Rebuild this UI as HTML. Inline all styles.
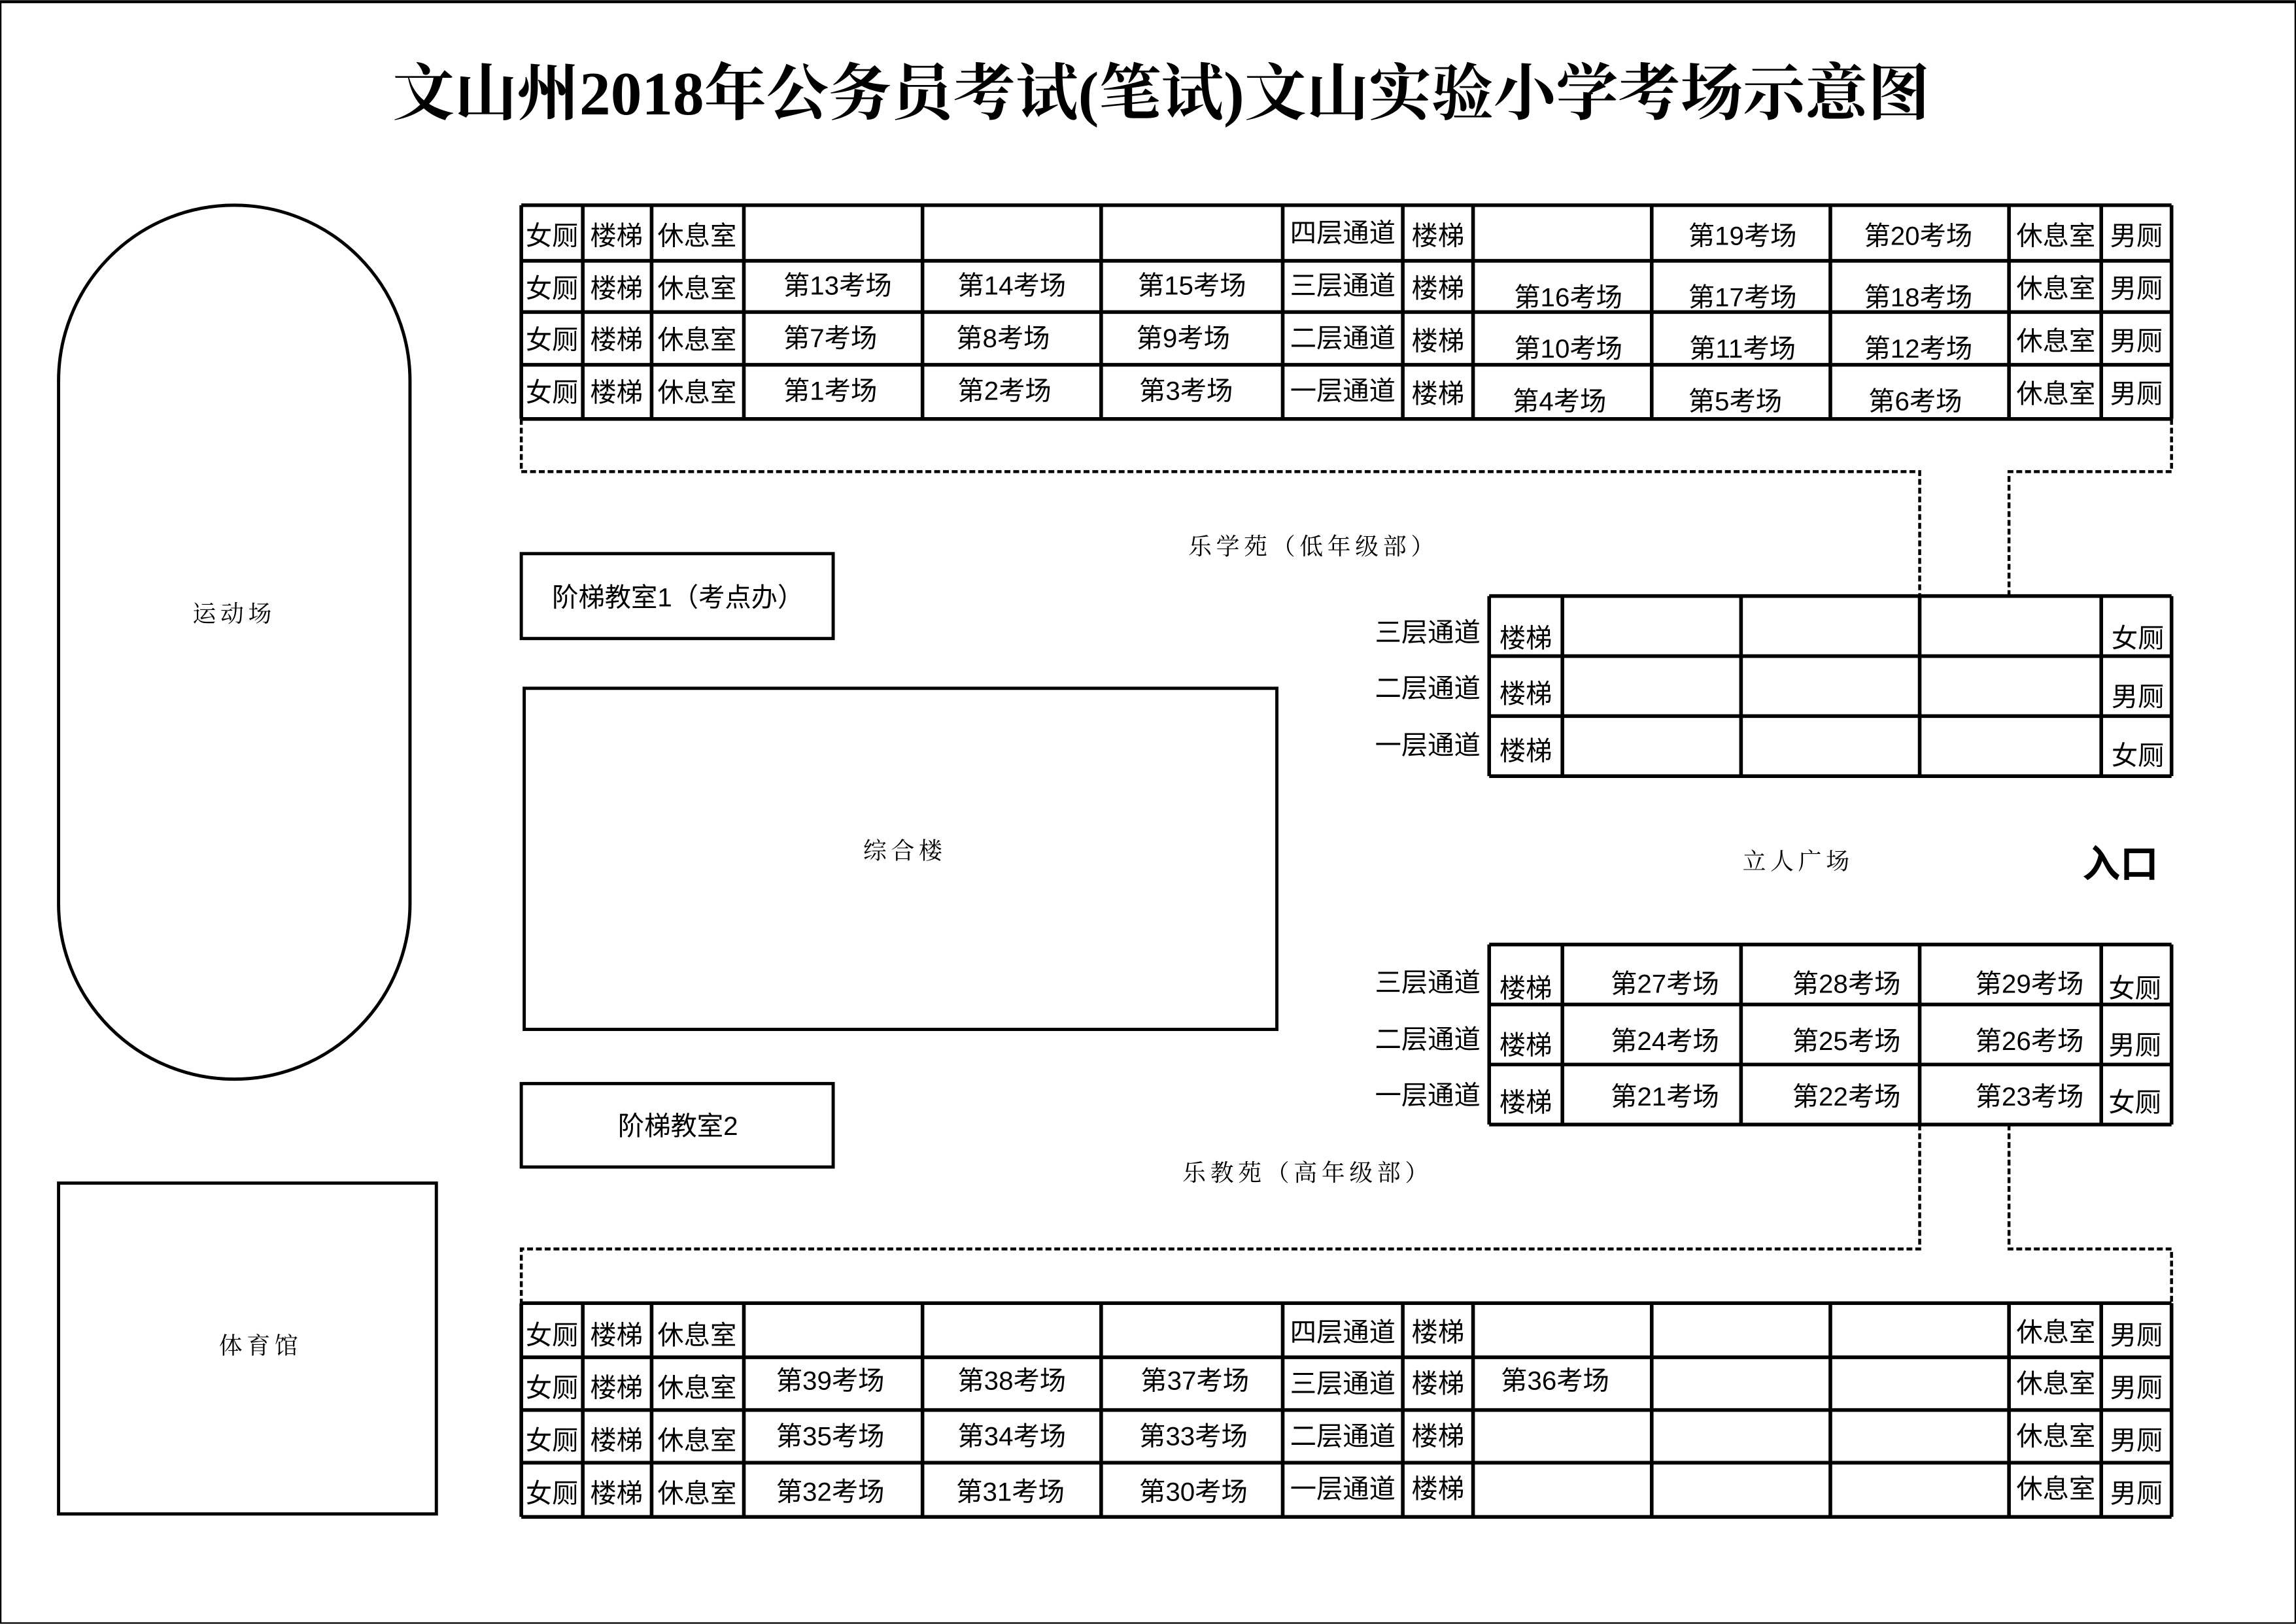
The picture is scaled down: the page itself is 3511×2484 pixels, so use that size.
<!DOCTYPE html>
<html><head><meta charset="utf-8"><style>
html,body{margin:0;padding:0;background:#fff;}
svg{display:block;}
text{font-family:"Liberation Sans","Noto Sans CJK SC",sans-serif;fill:#000;}
.c{font-size:18px;text-anchor:middle;dominant-baseline:central;}
.k{font-family:"Noto Serif CJK SC","Liberation Serif",serif;font-size:16px;text-anchor:middle;dominant-baseline:central;letter-spacing:3px;}
</style></head><body>
<svg width="3511" height="2484" viewBox="0 0 1568 1109" xmlns="http://www.w3.org/2000/svg">
<rect x="0.5" y="0.5" width="1567" height="1108" fill="#fff" stroke="#000" stroke-width="1"/>
<line x1="0" y1="1" x2="1568" y2="1" stroke="#000" stroke-width="2"/>
<text x="793" y="78" text-anchor="middle" textLength="1050" lengthAdjust="spacingAndGlyphs" style="font-family:'Liberation Serif','Noto Serif CJK SC',serif;font-size:42px;font-weight:bold">文山州2018年公务员考试(笔试)文山实验小学考场示意图</text>

<g fill="none" stroke="#000" stroke-width="2.2">
<rect x="40" y="140" width="240" height="597" rx="120" ry="120"/>
<rect x="40" y="808" width="258" height="226"/>
<rect x="356" y="378" width="213" height="58"/>
<rect x="358" y="470" width="514" height="233"/>
<rect x="356" y="740" width="213" height="57"/>
</g>
<text class="k" x="160" y="418">运动场</text>
<text class="k" x="178" y="918">体育馆</text>
<text class="c" x="463" y="408">阶梯教室1（考点办）</text>
<text class="k" x="618" y="580">综合楼</text>
<text class="c" x="463" y="769">阶梯教室2</text>
<text class="k" x="897" y="372">乐学苑（低年级部）</text>
<text class="k" x="893" y="800">乐教苑（高年级部）</text>
<text class="k" x="1228" y="587">立人广场</text>
<text x="1448" y="599" text-anchor="middle" style="font-size:26px;font-weight:bold">入口</text>

<g fill="none" stroke="#000" stroke-width="2" stroke-dasharray="4,2">
<polyline points="356,286 356,322 1311,322 1311,407"/>
<polyline points="1372,407 1372,322 1483,322 1483,286"/>
<polyline points="1311,768 1311,853 356,853 356,890"/>
<polyline points="1372,768 1372,853 1483,853 1483,890"/>
</g>

<!-- top table -->
<g stroke="#000" stroke-width="2.5">
<line x1="356" y1="140" x2="1483" y2="140"/><line x1="356" y1="178" x2="1483" y2="178"/>
<line x1="356" y1="213" x2="1483" y2="213"/><line x1="356" y1="249" x2="1483" y2="249"/>
<line x1="356" y1="286" x2="1483" y2="286"/>
<line x1="356" y1="140" x2="356" y2="286"/><line x1="398" y1="140" x2="398" y2="286"/>
<line x1="445" y1="140" x2="445" y2="286"/><line x1="508" y1="140" x2="508" y2="286"/>
<line x1="630" y1="140" x2="630" y2="286"/><line x1="752" y1="140" x2="752" y2="286"/>
<line x1="876" y1="140" x2="876" y2="286"/><line x1="958" y1="140" x2="958" y2="286"/>
<line x1="1006" y1="140" x2="1006" y2="286"/><line x1="1128" y1="140" x2="1128" y2="286"/>
<line x1="1250" y1="140" x2="1250" y2="286"/><line x1="1372" y1="140" x2="1372" y2="286"/>
<line x1="1435" y1="140" x2="1435" y2="286"/><line x1="1483" y1="140" x2="1483" y2="286"/>
</g>
<g class="c">
<text class="c" x="377" y="161">女厕</text><text class="c" x="421" y="161">楼梯</text><text class="c" x="476" y="161">休息室</text>
<text class="c" x="917" y="159">四层通道</text><text class="c" x="982" y="161">楼梯</text>
<text class="c" x="1190" y="161">第19考场</text><text class="c" x="1310" y="161">第20考场</text>
<text class="c" x="1404" y="161">休息室</text><text class="c" x="1459" y="161">男厕</text>

<text class="c" x="377" y="197">女厕</text><text class="c" x="421" y="197">楼梯</text><text class="c" x="476" y="197">休息室</text>
<text class="c" x="572" y="195">第13考场</text><text class="c" x="691" y="195">第14考场</text><text class="c" x="814" y="195">第15考场</text>
<text class="c" x="917" y="195">三层通道</text><text class="c" x="982" y="197">楼梯</text>
<text class="c" x="1071" y="203">第16考场</text><text class="c" x="1190" y="203">第17考场</text><text class="c" x="1310" y="203">第18考场</text>
<text class="c" x="1404" y="197">休息室</text><text class="c" x="1459" y="197">男厕</text>

<text class="c" x="377" y="232">女厕</text><text class="c" x="421" y="232">楼梯</text><text class="c" x="476" y="232">休息室</text>
<text class="c" x="567" y="231">第7考场</text><text class="c" x="685" y="231">第8考场</text><text class="c" x="808" y="231">第9考场</text>
<text class="c" x="917" y="231">二层通道</text><text class="c" x="982" y="233">楼梯</text>
<text class="c" x="1071" y="238">第10考场</text><text class="c" x="1190" y="238">第11考场</text><text class="c" x="1310" y="238">第12考场</text>
<text class="c" x="1404" y="233">休息室</text><text class="c" x="1459" y="233">男厕</text>

<text class="c" x="377" y="268">女厕</text><text class="c" x="421" y="268">楼梯</text><text class="c" x="476" y="268">休息室</text>
<text class="c" x="567" y="267">第1考场</text><text class="c" x="686" y="267">第2考场</text><text class="c" x="810" y="267">第3考场</text>
<text class="c" x="917" y="267">一层通道</text><text class="c" x="982" y="269">楼梯</text>
<text class="c" x="1065" y="274">第4考场</text><text class="c" x="1185" y="274">第5考场</text><text class="c" x="1308" y="274">第6考场</text>
<text class="c" x="1404" y="269">休息室</text><text class="c" x="1459" y="269">男厕</text>
</g>

<!-- middle upper table -->
<g stroke="#000" stroke-width="2.5">
<line x1="1017" y1="407" x2="1483" y2="407"/><line x1="1017" y1="448" x2="1483" y2="448"/>
<line x1="1017" y1="489" x2="1483" y2="489"/><line x1="1017" y1="530" x2="1483" y2="530"/>
<line x1="1017" y1="407" x2="1017" y2="530"/><line x1="1067" y1="407" x2="1067" y2="530"/>
<line x1="1189" y1="407" x2="1189" y2="530"/><line x1="1311" y1="407" x2="1311" y2="530"/>
<line x1="1435" y1="407" x2="1435" y2="530"/><line x1="1483" y1="407" x2="1483" y2="530"/>
</g>
<text class="c" x="975" y="432">三层通道</text><text class="c" x="975" y="470">二层通道</text><text class="c" x="975" y="509">一层通道</text>
<text class="c" x="1042" y="436">楼梯</text><text class="c" x="1042" y="474">楼梯</text><text class="c" x="1042" y="513">楼梯</text>
<text class="c" x="1460" y="436">女厕</text><text class="c" x="1460" y="476">男厕</text><text class="c" x="1460" y="516">女厕</text>

<!-- middle lower table -->
<g stroke="#000" stroke-width="2.5">
<line x1="1017" y1="645" x2="1483" y2="645"/><line x1="1017" y1="686" x2="1483" y2="686"/>
<line x1="1017" y1="727" x2="1483" y2="727"/><line x1="1017" y1="768" x2="1483" y2="768"/>
<line x1="1017" y1="645" x2="1017" y2="768"/><line x1="1067" y1="645" x2="1067" y2="768"/>
<line x1="1189" y1="645" x2="1189" y2="768"/><line x1="1311" y1="645" x2="1311" y2="768"/>
<line x1="1435" y1="645" x2="1435" y2="768"/><line x1="1483" y1="645" x2="1483" y2="768"/>
</g>
<text class="c" x="975" y="671">三层通道</text><text class="c" x="975" y="710">二层通道</text><text class="c" x="975" y="748">一层通道</text>
<text class="c" x="1042" y="675">楼梯</text><text class="c" x="1042" y="714">楼梯</text><text class="c" x="1042" y="753">楼梯</text>
<text class="c" x="1137" y="672">第27考场</text><text class="c" x="1261" y="672">第28考场</text><text class="c" x="1386" y="672">第29考场</text>
<text class="c" x="1137" y="711">第24考场</text><text class="c" x="1261" y="711">第25考场</text><text class="c" x="1386" y="711">第26考场</text>
<text class="c" x="1137" y="749">第21考场</text><text class="c" x="1261" y="749">第22考场</text><text class="c" x="1386" y="749">第23考场</text>
<text class="c" x="1458" y="675">女厕</text><text class="c" x="1458" y="714">男厕</text><text class="c" x="1458" y="753">女厕</text>

<!-- bottom table -->
<g stroke="#000" stroke-width="2.5">
<line x1="356" y1="890" x2="1483" y2="890"/><line x1="356" y1="927" x2="1483" y2="927"/>
<line x1="356" y1="963" x2="1483" y2="963"/><line x1="356" y1="999" x2="1483" y2="999"/>
<line x1="356" y1="1036" x2="1483" y2="1036"/>
<line x1="356" y1="890" x2="356" y2="1036"/><line x1="398" y1="890" x2="398" y2="1036"/>
<line x1="445" y1="890" x2="445" y2="1036"/><line x1="508" y1="890" x2="508" y2="1036"/>
<line x1="630" y1="890" x2="630" y2="1036"/><line x1="752" y1="890" x2="752" y2="1036"/>
<line x1="876" y1="890" x2="876" y2="1036"/><line x1="958" y1="890" x2="958" y2="1036"/>
<line x1="1006" y1="890" x2="1006" y2="1036"/><line x1="1128" y1="890" x2="1128" y2="1036"/>
<line x1="1250" y1="890" x2="1250" y2="1036"/><line x1="1372" y1="890" x2="1372" y2="1036"/>
<line x1="1435" y1="890" x2="1435" y2="1036"/><line x1="1483" y1="890" x2="1483" y2="1036"/>
</g>
<text class="c" x="377" y="912">女厕</text><text class="c" x="421" y="912">楼梯</text><text class="c" x="476" y="912">休息室</text>
<text class="c" x="917" y="910">四层通道</text><text class="c" x="982" y="910">楼梯</text>
<text class="c" x="1404" y="910">休息室</text><text class="c" x="1459" y="912">男厕</text>

<text class="c" x="377" y="948">女厕</text><text class="c" x="421" y="948">楼梯</text><text class="c" x="476" y="948">休息室</text>
<text class="c" x="567" y="943">第39考场</text><text class="c" x="691" y="943">第38考场</text><text class="c" x="816" y="943">第37考场</text>
<text class="c" x="917" y="945">三层通道</text><text class="c" x="982" y="945">楼梯</text><text class="c" x="1062" y="943">第36考场</text>
<text class="c" x="1404" y="945">休息室</text><text class="c" x="1459" y="948">男厕</text>

<text class="c" x="377" y="984">女厕</text><text class="c" x="421" y="984">楼梯</text><text class="c" x="476" y="984">休息室</text>
<text class="c" x="567" y="981">第35考场</text><text class="c" x="691" y="981">第34考场</text><text class="c" x="815" y="981">第33考场</text>
<text class="c" x="917" y="981">二层通道</text><text class="c" x="982" y="981">楼梯</text>
<text class="c" x="1404" y="981">休息室</text><text class="c" x="1459" y="984">男厕</text>

<text class="c" x="377" y="1020">女厕</text><text class="c" x="421" y="1020">楼梯</text><text class="c" x="476" y="1020">休息室</text>
<text class="c" x="567" y="1019">第32考场</text><text class="c" x="690" y="1019">第31考场</text><text class="c" x="815" y="1019">第30考场</text>
<text class="c" x="917" y="1017">一层通道</text><text class="c" x="982" y="1017">楼梯</text>
<text class="c" x="1404" y="1017">休息室</text><text class="c" x="1459" y="1020">男厕</text>
</svg>
</body></html>
